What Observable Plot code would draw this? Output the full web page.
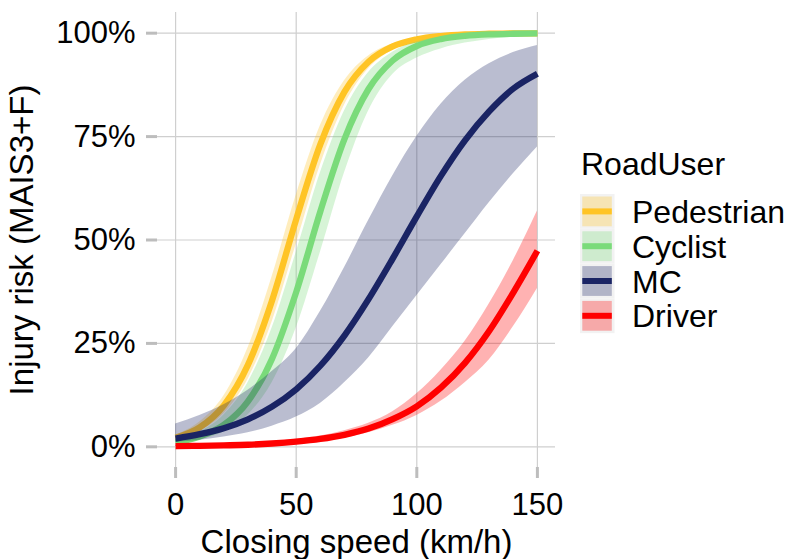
<!DOCTYPE html>
<html>
<head>
<meta charset="utf-8">
<script src="https://cdn.jsdelivr.net/npm/d3@7"></script>
<script src="https://cdn.jsdelivr.net/npm/@observablehq/plot@0.6"></script>
<style>
  html, body { margin: 0; padding: 0; background: white; }
  #wrap { position: relative; width: 790px; height: 559px; overflow: hidden; font-family: 'Liberation Sans', Arial, sans-serif; }
  #legend { position: absolute; left: 0; top: 0; }
</style>
</head>
<body>
<div id="wrap"></div>
<script>
// ---- data (risk in %) ----
const speed = [0, 10, 20, 30, 40, 50, 60, 70, 80, 90, 100, 110, 120, 130, 140, 150];

const pedestrian   = [2.2, 4.7, 10.0, 19.8, 35.4, 55.0, 73.1, 85.8, 93.1, 96.8, 98.5, 99.3, 99.7, 99.86, 99.94, 99.97];
const pedestrianLo = [1.7, 3.8, 8.0, 16.3, 30.2, 49.0, 68.1, 82.6, 91.4, 95.9, 98.1, 99.15, 99.62, 99.83, 99.92, 99.96];
const pedestrianHi = [2.8, 6.0, 12.3, 23.9, 41.1, 60.8, 77.6, 88.5, 94.5, 97.4, 98.8, 99.47, 99.76, 99.89, 99.95, 99.98];

const cyclist   = [1.1, 2.5, 5.3, 11.0, 21.3, 37.4, 56.9, 74.4, 86.5, 93.4, 96.9, 98.56, 99.34, 99.70, 99.86, 99.94];
const cyclistLo = [0.8, 1.7, 3.6, 7.7, 15.5, 28.7, 47.0, 66.2, 81.2, 90.0, 94.0, 96.2, 97.6, 98.5, 99.0, 99.3];
const cyclistHi = [1.7, 3.6, 7.7, 15.5, 28.7, 47.0, 66.2, 81.2, 90.5, 95.4, 97.9, 99.03, 99.56, 99.80, 99.91, 99.96];

const mc   = [2.0, 3.05, 4.5, 6.65, 9.7, 13.9, 19.6, 26.9, 35.7, 45.5, 55.7, 65.5, 74.1, 81.1, 86.6, 90.2];
const mcLo = [1.1, 1.6, 2.4, 3.4, 5.0, 7.2, 10.5, 15.5, 21.5, 29.0, 36.5, 44.0, 51.5, 59.0, 66.0, 72.5];
const mcHi = [5.5, 7.6, 10.2, 13.7, 18.2, 23.7, 32.7, 43.3, 54.7, 65.5, 75.0, 82.8, 88.6, 92.6, 95.3, 97.0];

const driver   = [0.15, 0.23, 0.35, 0.5, 0.8, 1.25, 1.9, 2.9, 4.4, 6.7, 9.8, 14.3, 20.3, 28.0, 37.3, 47.4];
const driverLo = [0.05, 0.1, 0.15, 0.25, 0.45, 0.8, 1.3, 2.1, 3.4, 5.2, 7.6, 11.0, 15.5, 21.0, 29.0, 38.3];
const driverHi = [0.4, 0.5, 0.65, 0.85, 1.2, 1.8, 2.6, 3.9, 5.7, 8.5, 12.8, 18.5, 25.5, 34.5, 45.0, 57.0];

const roadUsers = ["Pedestrian", "Cyclist", "MC", "Driver"];
const colors = ["#FFC425", "#7ADB7A", "#1A2464", "#FF0000"];
const xTicks = [0, 50, 100, 150];
const yTicks = [0, 25, 50, 75, 100];

// ---- build tables ----
const seriesVals = {
  Pedestrian: [pedestrian, pedestrianLo, pedestrianHi],
  Cyclist: [cyclist, cyclistLo, cyclistHi],
  MC: [mc, mcLo, mcHi],
  Driver: [driver, driverLo, driverHi]
};
const tables = roadUsers.map(u => speed.map((s, i) => ({
  user: u, speed: s,
  risk: seriesVals[u][0][i], lo: seriesVals[u][1][i], hi: seriesVals[u][2][i]
})));

const font = "'Liberation Sans', Arial, sans-serif";
const marks = [
  Plot.gridX(xTicks, {stroke: "#cfcfcf", strokeOpacity: 1, strokeWidth: 1.2}),
  Plot.gridY(yTicks, {stroke: "#cfcfcf", strokeOpacity: 1, strokeWidth: 1.2})
];
tables.forEach((t, k) => {
  marks.push(Plot.areaY(t, {x: "speed", y1: "lo", y2: "hi", fill: colors[k], fillOpacity: 0.3, curve: "monotone-x"}));
  marks.push(Plot.lineY(t, {x: "speed", y: "risk", stroke: colors[k], strokeWidth: 6.3, strokeLinecap: "butt", curve: "monotone-x"}));
});
marks.push(
  Plot.axisX({ticks: xTicks, tickSize: 11, tickPadding: 14, fontSize: 31, stroke: "#bdbdbd", strokeWidth: 3, fill: "black", label: null}),
  Plot.axisY({ticks: yTicks, tickFormat: d => d + "%", tickSize: 11, tickPadding: 11, fontSize: 31, stroke: "#bdbdbd", strokeWidth: 3, fill: "black", label: null}),
  Plot.text(["Closing speed (km/h)"], {text: d => d, frameAnchor: "bottom", dy: 75, fontSize: 33, textAnchor: "middle", lineAnchor: "middle", fill: "black"}),
  Plot.text(["Injury risk (MAIS3+F)"], {text: d => d, frameAnchor: "left", dx: -135, rotate: -90, fontSize: 33, textAnchor: "middle", lineAnchor: "middle", fill: "black"})
);

const chart = Plot.plot({
  width: 790,
  height: 559,
  marginLeft: 157,
  marginRight: 235,
  marginTop: 12,
  marginBottom: 92,
  style: {fontFamily: font, background: "white", color: "black", overflow: "visible"},
  x: {domain: [-7.5, 157.5], label: null},
  y: {domain: [-5, 105], label: null},
  marks
});
document.getElementById("wrap").appendChild(chart);

// ---- legend ----
const leg = d3.select("#wrap").append("svg")
  .attr("id", "legend")
  .attr("width", 790).attr("height", 559)
  .style("pointer-events", "none");
leg.append("text")
  .attr("x", 581).attr("y", 175)
  .attr("font-family", font).attr("font-size", 32)
  .text("RoadUser");
const pitch = 34.8, top0 = 194;
roadUsers.forEach((u, k) => {
  const y0 = top0 + k * pitch;
  leg.append("rect").attr("x", 580).attr("y", y0).attr("width", 34.5).attr("height", pitch).attr("fill", "#f2f2f2");
  leg.append("rect").attr("x", 582.3).attr("y", y0 + 2.5).attr("width", 29.5).attr("height", pitch - 5)
    .attr("fill", colors[k]).attr("fill-opacity", 0.3);
  leg.append("rect").attr("x", 582.3).attr("y", y0 + pitch / 2 - 3).attr("width", 29.5).attr("height", 6)
    .attr("fill", colors[k]);
  leg.append("text")
    .attr("x", 632).attr("y", y0 + pitch / 2)
    .attr("dy", "0.36em")
    .attr("font-family", font).attr("font-size", 32)
    .text(u);
});
</script>
</body>
</html>
